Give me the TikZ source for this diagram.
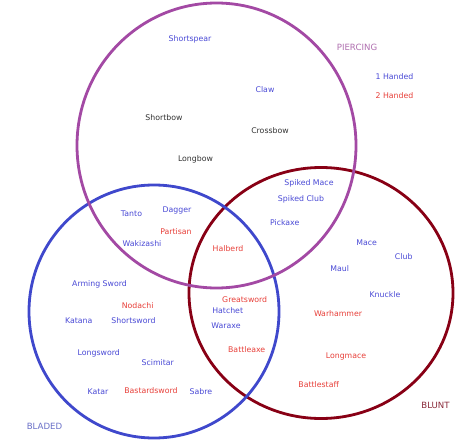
\documentclass[tikz,border=0pt]{standalone}
\usepackage{fontspec}
\setmainfont{DejaVu Sans}
\definecolor{cpurple}{HTML}{A349A4}
\definecolor{cblue}{HTML}{3F48CC}
\definecolor{cred}{HTML}{880015}
\definecolor{tblue}{HTML}{4A4AD6}
\definecolor{tred}{HTML}{E8403A}
\definecolor{tblack}{HTML}{333333}
\definecolor{lpurple}{HTML}{B070B0}
\definecolor{lblue}{HTML}{6A70C8}
\definecolor{lred}{HTML}{8A2A3A}
\tikzset{
  ring/.style={line width=2.8pt},
  wtxt/.style={font=\fontsize{7.8}{9}\selectfont, inner sep=0pt},
  one/.style={wtxt, text=tblue},
  two/.style={wtxt, text=tred},
  neutral/.style={wtxt, text=tblack},
  setlabel/.style={font=\fontsize{8.6}{10}\selectfont, inner sep=0pt},
}
\begin{document}
\begin{tikzpicture}[x=1pt,y=-1pt]
\useasboundingbox (0,0) rectangle (460,441);
\fill[white] (0,0) rectangle (460,441);
% circles
\draw[ring, cred] (321,293) ellipse [x radius=132pt, y radius=125.5pt];
\draw[ring, cblue] (154,311.5) ellipse [x radius=125pt, y radius=126.5pt];
\draw[ring, cpurple] (216.5,145.5) ellipse [x radius=139.5pt, y radius=142.5pt];
% set labels
\node[setlabel, text=lpurple] (piercing) at (357,47) {PIERCING};
\node[setlabel, text=lblue] (bladed) at (44.5,426) {BLADED};
\node[setlabel, text=lred] (blunt) at (435.5,405) {BLUNT};
% legend
\node[one] (leg1) at (394.5,77) {1 Handed};
\node[two] (leg2) at (394.5,96) {2 Handed};
% piercing
\node[one] (shortspear) at (190,39) {Shortspear};
\node[one] (claw) at (265,90) {Claw};
\node[neutral] (shortbow) at (164,118) {Shortbow};
\node[neutral] (crossbow) at (270,131) {Crossbow};
\node[neutral] (longbow) at (195.5,159) {Longbow};
% piercing + bladed
\node[one] (tanto) at (131.5,214) {Tanto};
\node[one] (dagger) at (177,210) {Dagger};
\node[two] (partisan) at (176,232) {Partisan};
\node[one] (wakizashi) at (142,244) {Wakizashi};
% piercing + blunt
\node[one] (spikedmace) at (309,183) {Spiked Mace};
\node[one] (spikedclub) at (301,199) {Spiked Club};
\node[one] (pickaxe) at (284.7,222.7) {Pickaxe};
% all three
\node[two] (halberd) at (228,249) {Halberd};
% bladed
\node[one] (armingsword) at (99.5,284) {Arming Sword};
\node[two] (nodachi) at (137.7,306) {Nodachi};
\node[one] (katana) at (78.7,321) {Katana};
\node[one] (shortsword) at (133.5,321) {Shortsword};
\node[one] (longsword) at (98.8,353) {Longsword};
\node[one] (scimitar) at (157.7,363) {Scimitar};
\node[one] (katar) at (98,392) {Katar};
\node[two] (bastardsword) at (151,391) {Bastardsword};
\node[one] (sabre) at (201,392) {Sabre};
% bladed + blunt
\node[two] (greatsword) at (244.7,300) {Greatsword};
\node[one] (hatchet) at (227.7,311) {Hatchet};
\node[one] (waraxe) at (226,325.7) {Waraxe};
\node[two] (battleaxe) at (246.7,350) {Battleaxe};
% blunt
\node[one] (mace) at (366.7,243) {Mace};
\node[one] (club) at (403.7,256.7) {Club};
\node[one] (maul) at (339.7,268.7) {Maul};
\node[one] (knuckle) at (385,295) {Knuckle};
\node[two] (warhammer) at (338,314) {Warhammer};
\node[two] (longmace) at (346,356) {Longmace};
\node[two] (battlestaff) at (318.7,384.3) {Battlestaff};
\end{tikzpicture}
\end{document}
